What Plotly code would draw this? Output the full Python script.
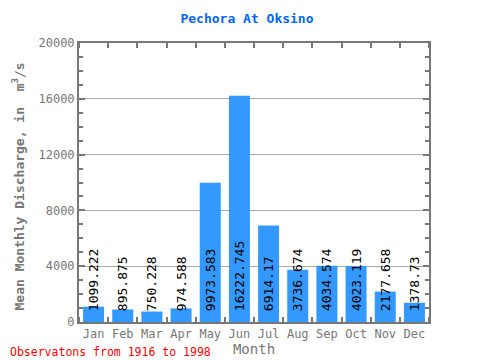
import plotly.graph_objects as go

months = ["Jan", "Feb", "Mar", "Apr", "May", "Jun", "Jul", "Aug", "Sep", "Oct", "Nov", "Dec"]
discharge = [1099.222, 895.875, 750.228, 974.588, 9973.583, 16222.745, 6914.17,
             3736.674, 4034.574, 4023.119, 2177.658, 1378.73]
labels = ["1099.222", "895.875", "750.228", "974.588", "9973.583", "16222.745", "6914.17",
          "3736.674", "4034.574", "4023.119", "2177.658", "1378.73"]
y_ticks = [0, 4000, 8000, 12000, 16000, 20000]
y_ticktext = ["0", "4000", "8000", "12000", "16000", "20000"]

font = "DejaVu Sans Mono"
axis_col = "#777777"

# page has an 8px body margin; figure is sized/offset to compensate
W, H = 472, 352

fig = go.Figure()
fig.add_trace(go.Bar(
    x=list(range(12)), y=discharge, text=["\u00a0" + t for t in labels],
    marker=dict(color="#3399ff", line=dict(width=0)),
    textposition="inside", insidetextanchor="start", textangle=-90,
    constraintext="none", cliponaxis=False,
    textfont=dict(family=font, size=13, color="black"),
    width=0.72,
))

fig.update_layout(
    width=W, height=H,
    margin=dict(l=71, r=51, t=35, b=38, autoexpand=False),
    paper_bgcolor="white", plot_bgcolor="white",
    showlegend=False,
    title=dict(text="<b>Pechora At Oksino</b>", x=239 / W, xref="container", xanchor="center",
               y=1 - 10 / H, yref="container", yanchor="middle",
               font=dict(family=font, size=13, color="#0066ff")),
    xaxis=dict(
        tickmode="array", tickvals=list(range(12)), ticktext=months,
        range=[-0.5, 11.5], showgrid=False, ticks="", showline=True, linewidth=2,
        linecolor=axis_col, mirror="ticks", automargin=False,
        tickfont=dict(family=font, size=12, color=axis_col),
        title=dict(text="Month", font=dict(family=font, size=14, color=axis_col), standoff=0),
        minor=dict(tickmode="array", tickvals=[i + 0.5 for i in range(-1, 12)], ticks="inside",
                   ticklen=5, tickcolor=axis_col, tickwidth=2),
    ),
    yaxis=dict(
        range=[0, 20000], tickmode="array", tickvals=y_ticks, ticktext=y_ticktext,
        ticks="inside", ticklen=6, tickwidth=2, tickcolor=axis_col,
        showgrid=True, gridcolor="#aaaaaa", gridwidth=1,
        showline=True, linewidth=2, linecolor=axis_col, mirror="ticks",
        layer="above traces", zeroline=False, automargin=False,
        tickfont=dict(family=font, size=12, color=axis_col),
        minor=dict(dtick=1000, ticks="inside", ticklen=4, tickwidth=2, tickcolor=axis_col,
                   showgrid=False),
    ),
    annotations=[
        dict(text="Observatons from 1916 to 1998", xref="paper", yref="paper",
             x=-71 / 350, y=-(344 - 314) / 279, xanchor="left", yanchor="middle",
             showarrow=False, font=dict(family=font, size=11.5, color="red")),
        dict(text="<b>Mean Monthly Discharge, in  m<sup>3</sup>/s</b>",
             xref="paper", yref="paper", x=-(71 - 10) / 350, y=0.5 - 4 / 279,
             xanchor="center", yanchor="middle", textangle=-90, showarrow=False,
             font=dict(family=font, size=13, color=axis_col)),
    ],
)

fig.write_html("out.html")
